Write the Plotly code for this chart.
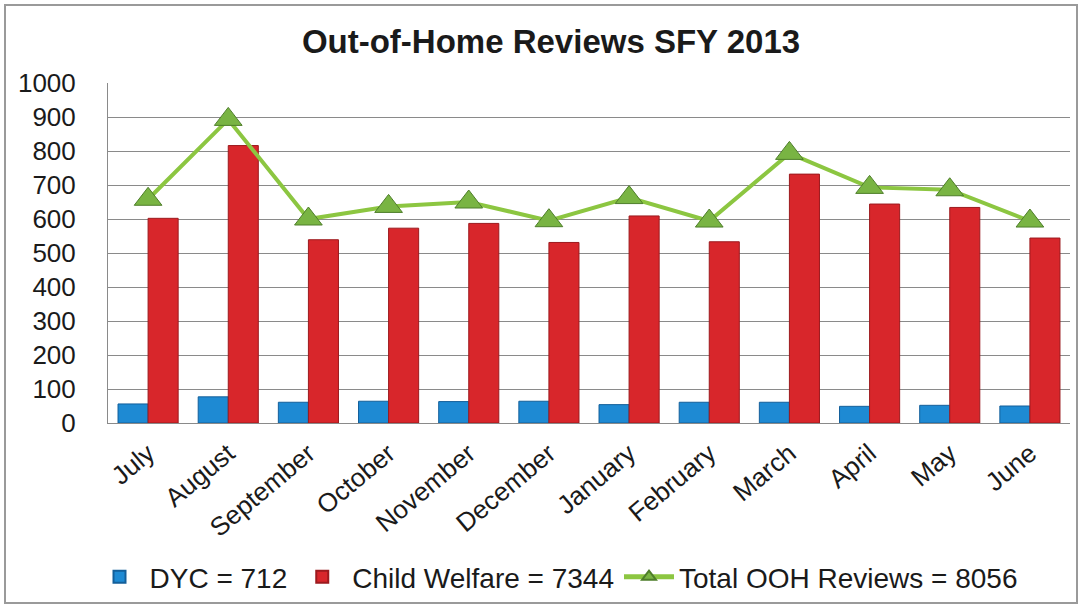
import plotly.graph_objects as go

months = ["July", "August", "September", "October", "November", "December",
          "January", "February", "March", "April", "May", "June"]
dyc = [56, 77, 61, 64, 63, 64, 54, 61, 61, 49, 52, 50]
child_welfare = [602, 816, 539, 573, 587, 531, 609, 533, 732, 644, 634, 544]
total_ooh = [658, 893, 600, 637, 650, 595, 663, 594, 793, 693, 686, 594]
y_ticks = [0, 100, 200, 300, 400, 500, 600, 700, 800, 900, 1000]

W, H = 1086, 607
ML, MR, MT, MB = 108, 16, 83, 184
pw, ph = W - ML - MR, H - MT - MB

def px_x(x):
    return (x - ML) / pw

def px_y(y):
    return (H - MB - y) / ph

FONT = "Liberation Sans, Arial, sans-serif"

fig = go.Figure()
fig.add_trace(go.Bar(
    x=months, y=dyc, name="DYC = 712",
    marker=dict(color="#1E8AD3", line=dict(color="#135F9A", width=1)),
))
fig.add_trace(go.Bar(
    x=months, y=child_welfare, name="Child Welfare = 7344",
    marker=dict(color="#D8262B", line=dict(color="#9C1A1E", width=1)),
))
fig.add_trace(go.Scatter(
    x=months, y=total_ooh, name="Total OOH Reviews = 8056",
    mode="lines+markers",
    line=dict(color="#8CC641", width=4),
    marker=dict(symbol="triangle-up", size=24, color="#79B443",
                line=dict(color="#4E7E2A", width=1)),
))

fig.update_layout(
    width=W, height=H,
    margin=dict(l=ML, r=MR, t=MT, b=MB, autoexpand=False),
    paper_bgcolor="white", plot_bgcolor="white",
    barmode="group", bargap=0.25, bargroupgap=0.0,
    font=dict(family=FONT, color="#1a1a1a"),
    title=dict(text="<b>Out-of-Home Reviews SFY 2013</b>",
               font=dict(family=FONT, size=33, color="#1a1a1a"),
               x=551 / W, xref="container", xanchor="center",
               y=1 - 41 / H, yref="container", yanchor="middle"),
    showlegend=True,
    legend=dict(orientation="h", x=px_x(556), xanchor="center",
                y=px_y(577), yanchor="middle",
                font=dict(family=FONT, size=28, color="#1a1a1a"),
                itemsizing="constant", itemwidth=50, traceorder="normal",
                bgcolor="rgba(0,0,0,0)"),
    shapes=[dict(type="rect", xref="paper", yref="paper",
                 x0=px_x(5), x1=px_x(1077), y0=px_y(603), y1=px_y(5),
                 line=dict(color="#9a9a9a", width=2), layer="below")],
)

fig.update_yaxes(
    range=[0, 1000], tickvals=y_ticks, automargin=False,
    showgrid=True, gridcolor="#8a8a8a", gridwidth=1,
    showline=True, linecolor="#8a8a8a", linewidth=1,
    zeroline=False,
    tickfont=dict(family=FONT, size=26, color="#1a1a1a"),
    ticks="", ticklabelstandoff=26,
)
fig.update_xaxes(
    range=[-0.5, len(months) - 0.5],
    showline=True, linecolor="#8a8a8a", linewidth=1, automargin=False,
    tickangle=-40,
    tickfont=dict(family=FONT, size=26, color="#1a1a1a"),
    ticks="", ticklabelstandoff=4,
)

fig.write_html(
    "out.html",
    config={"displayModeBar": False},
    post_script="document.body.style.margin='0';document.body.style.overflow='hidden';",
)
